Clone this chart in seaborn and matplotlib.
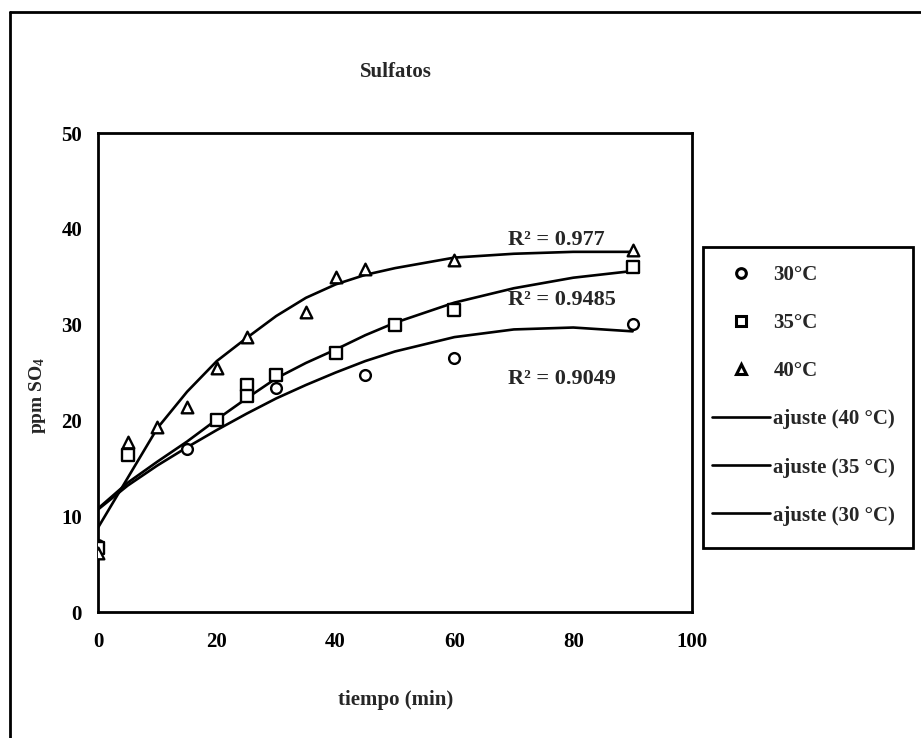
import numpy as np
import pandas as pd
import matplotlib
matplotlib.use("Agg")
import matplotlib.pyplot as plt
from matplotlib.lines import Line2D
from matplotlib.patches import Rectangle
import seaborn as sns

# ---- data ----
t30 = [0, 15, 30, 45, 60, 90]
s30 = [7.0, 17.0, 23.4, 24.7, 26.5, 30.1]

t35 = [0, 5, 20, 25, 25, 30, 40, 50, 60, 90]
s35 = [6.7, 16.4, 20.0, 23.7, 22.6, 24.7, 27.0, 30.0, 31.5, 36.0]

t40 = [0, 5, 10, 15, 20, 25, 35, 40, 45, 60, 90]
s40 = [6.2, 17.7, 19.3, 21.4, 25.5, 28.7, 31.3, 35.0, 35.8, 36.7, 37.8]

# trend lines
fit_x = [0, 5, 10, 15, 20, 25, 30, 35, 40, 45, 50, 60, 70, 80, 90]
fit40 = [8.8, 14.0, 19.2, 23.0, 26.2, 28.6, 30.9, 32.8, 34.2, 35.2, 35.9, 37.0, 37.4, 37.6, 37.6]
fit35 = [10.8, 13.5, 15.7, 17.8, 20.1, 22.3, 24.4, 26.0, 27.4, 28.9, 30.2, 32.3, 33.8, 34.9, 35.6]
fit30 = [10.7, 13.2, 15.3, 17.2, 19.0, 20.7, 22.3, 23.7, 25.0, 26.2, 27.2, 28.7, 29.5, 29.7, 29.3]

r2_labels = ["R² = 0.977", "R² = 0.9485", "R² = 0.9049"]
r2_pos = [(69, 38.8), (69, 32.6), (69, 24.3)]

series_labels = ["30°C", "35°C", "40°C"]
fit_labels = ["ajuste (40 °C)", "ajuste (35 °C)", "ajuste (30 °C)"]

title = "Sulfatos"
xlabel = "tiempo (min)"
ylabel = "ppm SO$_4$"
xticks = [0, 20, 40, 60, 80, 100]
yticks = [0, 10, 20, 30, 40, 50]

# ---- plotting ----
sns.set_style("white")
plt.rcParams["font.family"] = ["Liberation Serif", "DejaVu Serif"]
plt.rcParams["mathtext.fontset"] = "custom"
plt.rcParams["mathtext.rm"] = "Liberation Serif:bold"
plt.rcParams["mathtext.it"] = "Liberation Serif:bold"
plt.rcParams["mathtext.bf"] = "Liberation Serif:bold"

fig = plt.figure(figsize=(9.21, 7.38), dpi=100)
ax = fig.add_axes([0.1064, 0.1707, 0.645, 0.649])

fitdf = pd.DataFrame({"x": fit_x, "f40": fit40, "f35": fit35, "f30": fit30})
lw = 1.9
sns.lineplot(data=fitdf, x="x", y="f40", ax=ax, color="black", lw=lw)
sns.lineplot(data=fitdf, x="x", y="f35", ax=ax, color="black", lw=lw)
sns.lineplot(data=fitdf, x="x", y="f30", ax=ax, color="black", lw=lw)

mk = dict(facecolor="white", edgecolor="black", linewidth=1.7, zorder=5)
sns.scatterplot(x=t30, y=s30, ax=ax, marker="o", s=60, **mk)
sns.scatterplot(x=t35, y=s35, ax=ax, marker="s", s=65, **mk)
sns.scatterplot(x=t40, y=s40, ax=ax, marker="^", s=70, **mk)

ax.set_xlim(0, 100)
ax.set_ylim(0, 50)
ax.set_xticks(xticks)
ax.set_yticks(yticks)
ax.set_xticklabels([str(v) for v in xticks], fontsize=15, fontweight="bold")
ax.set_yticklabels([str(v) for v in yticks], fontsize=15, fontweight="bold")
ax.tick_params(direction="inout", length=7, width=1.3, colors="black")
ax.tick_params(axis="x", pad=11)
ax.tick_params(axis="y", pad=8)
ax.set_xlabel("")
ax.set_ylabel("")
for sp in ax.spines.values():
    sp.set_visible(True)
    sp.set_color("black")
    sp.set_linewidth(2.0)

for lab, (px, py) in zip(r2_labels, r2_pos):
    ax.text(px, py, lab, fontsize=16, fontweight="bold", va="center", ha="left")

fig.text(0.4295, 0.902, title, ha="center", va="center", fontsize=15, fontweight="bold")
fig.text(0.4295, 0.052, xlabel, ha="center", va="center", fontsize=15, fontweight="bold")
fig.text(0.041, 0.465, ylabel, ha="center", va="center", rotation=90, fontsize=14, fontweight="bold")

handles = [
    Line2D([], [], ls="none", marker="o", mfc="white", mec="black", mew=2.2, ms=7),
    Line2D([], [], ls="none", marker="s", mfc="white", mec="black", mew=2.2, ms=7),
    Line2D([], [], ls="none", marker="^", mfc="white", mec="black", mew=2.2, ms=7),
    Line2D([], [], color="black", lw=1.9),
    Line2D([], [], color="black", lw=1.9),
    Line2D([], [], color="black", lw=1.9),
]
leg = fig.legend(handles, series_labels + fit_labels,
                 loc="upper left", bbox_to_anchor=(712 / 921, 1 - 265 / 738),
                 frameon=False,
                 prop={"family": "Liberation Serif", "weight": "bold", "size": 15},
                 handlelength=2.8, handletextpad=0.15, labelspacing=1.35,
                 borderpad=0, borderaxespad=0)

# legend frame
fig.add_artist(Rectangle((703 / 921, 1 - 548 / 738), 210 / 921, 301 / 738,
                         transform=fig.transFigure, fill=False,
                         edgecolor="black", lw=2.0))

# outer frame (left and top edges visible in the scan)
fig.add_artist(Line2D([0.011, 0.011], [0.0, 0.984], color="black", lw=2, transform=fig.transFigure))
fig.add_artist(Line2D([0.011, 1.0], [0.984, 0.984], color="black", lw=2, transform=fig.transFigure))

fig.savefig("out.png", dpi=100, facecolor="white")
